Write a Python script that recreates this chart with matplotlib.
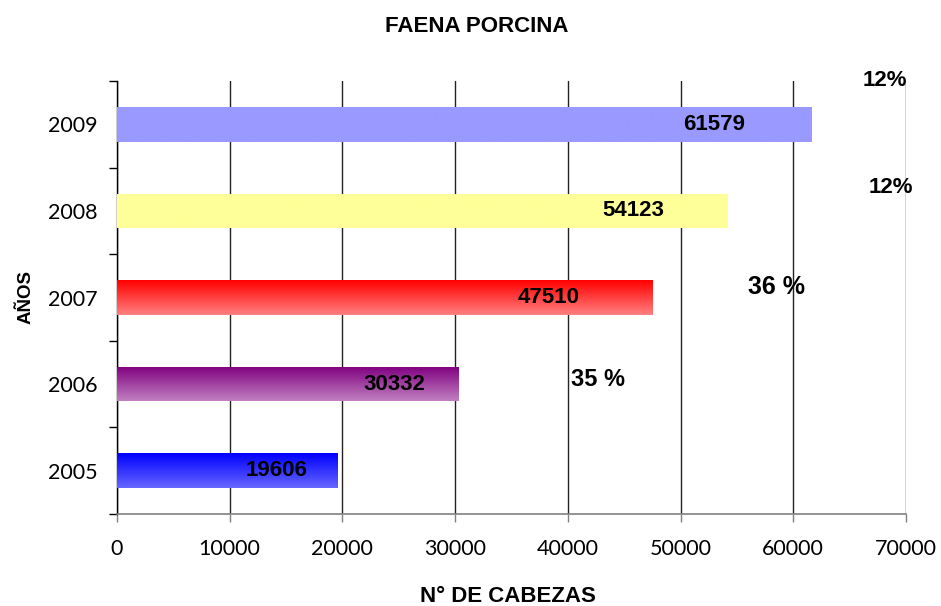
import matplotlib
matplotlib.use("Agg")
import matplotlib.pyplot as plt
import numpy as np
from matplotlib.colors import LinearSegmentedColormap, to_rgb
from matplotlib import font_manager

# ---- data ----
years = ["2005", "2006", "2007", "2008", "2009"]
heads = [19606, 30332, 47510, 54123, 61579]
growth_labels = ["35 %", "36 %", "12%", "12%"]

# ---- styling / layout ----
bar_top_colors = ["#0000FF", "#800080", "#FF0000", "#FFFF99", "#9999FF"]
bar_bottom_colors = ["#6666FF", "#C080C0", "#FF8080", "#FFFF99", "#9999FF"]
value_label_x = [14200, 24600, 38300, 45800, 52950]
growth_pos = [(42700, 1.05), (58550, 2.12), (68700, 3.27), (68150, 4.50)]
growth_sizes = [17, 18, 16, 16]

names = {f.name for f in font_manager.fontManager.ttflist}
narrow = "Liberation Sans Narrow" if "Liberation Sans Narrow" in names else "Liberation Sans"

fig = plt.figure(figsize=(9.41, 6.06), dpi=100)
ax = fig.add_axes([117/941, 1-514/606, 789/941, 433/606])

y = np.arange(len(years))
h = 0.4
bars = ax.barh(y, heads, height=h, color="none", edgecolor="none", zorder=3)
for b, c1, c2 in zip(bars, bar_top_colors, bar_bottom_colors):
    cmap = LinearSegmentedColormap.from_list("g", [to_rgb(c1), to_rgb(c2)])
    grad = np.linspace(0, 1, 64).reshape(-1, 1)
    x0, y0 = b.get_x(), b.get_y()
    im = ax.imshow(grad, cmap=cmap, aspect="auto", origin="upper",
                   extent=[x0, x0 + b.get_width(), y0, y0 + b.get_height()],
                   zorder=3, interpolation="bilinear")
    im.set_clip_path(b)

for xv, yi, v in zip(value_label_x, y, heads):
    ax.text(xv, yi, str(v), ha="center", va="center", fontsize=16,
            fontweight="bold", family="Liberation Sans", color="black", zorder=5)

for (gx, gy), t, fs in zip(growth_pos, growth_labels, growth_sizes):
    ax.text(gx, gy, t, ha="center", va="center", fontsize=fs,
            fontweight="bold", family="Liberation Sans", color="black", zorder=5,
            clip_on=False)

ax.set_xlim(0, 70000)
ax.set_ylim(-0.5, len(years) - 0.5)
ax.set_xticks(np.arange(0, 70001, 10000))
ax.set_xticklabels([str(v) for v in range(0, 70001, 10000)])
ax.set_yticks(y)
ax.set_yticklabels(years)
ax.set_yticks(np.arange(-0.5, len(years), 1), minor=True)

ax.grid(axis="x", color="#222222", linewidth=1, zorder=0)
ax.set_axisbelow(True)
for s in ["top", "right"]:
    ax.spines[s].set_visible(False)
ax.spines["left"].set_color("black")
ax.spines["bottom"].set_color("#808080")
ax.spines["left"].set_linewidth(1)
ax.spines["bottom"].set_linewidth(1.2)

ax.tick_params(axis="y", which="major", length=0, pad=14, labelsize=15.5)
ax.tick_params(axis="y", which="minor", length=6, width=1, color="black", direction="out")
ax.tick_params(axis="x", which="major", length=6, width=1, color="#808080", direction="out",
               pad=12, labelsize=15.5)
for lab in ax.get_xticklabels() + ax.get_yticklabels():
    lab.set_family("Lato")

ax.set_ylabel("AÑOS", fontsize=13.5, fontweight="bold", family="Liberation Sans")
ax.yaxis.set_label_coords(-0.105, 0.5)
fig.text(508/941, 1-597/606, "N° DE CABEZAS", ha="center", va="center", fontsize=16,
         fontweight="bold", family="Liberation Sans")
fig.text(477/941, 1-26/606, "FAENA PORCINA", ha="center", va="center",
         fontsize=19 if narrow != "Liberation Sans" else 16,
         fontweight="bold", family=narrow)

fig.savefig("out.png", dpi=100, facecolor="white")
